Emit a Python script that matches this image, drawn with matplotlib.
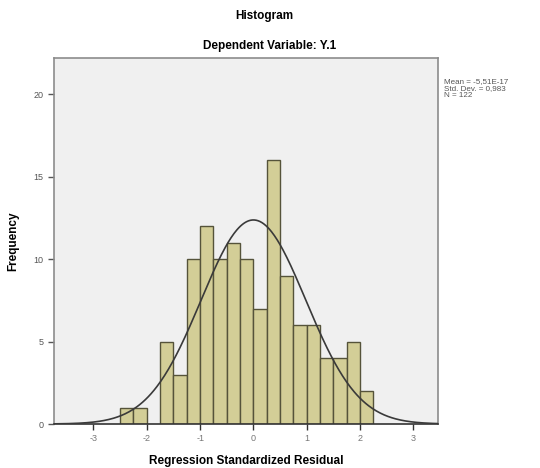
import numpy as np
import matplotlib
matplotlib.use("Agg")
import matplotlib.pyplot as plt

plt.rcParams['font.family'] = ['Liberation Sans', 'DejaVu Sans']
plt.rcParams['axes.unicode_minus'] = False

bin_edges = [-2.5, -2.25, -2.0, -1.75, -1.5, -1.25, -1.0, -0.75, -0.5, -0.25,
             0.0, 0.25, 0.5, 0.75, 1.0, 1.25, 1.5, 1.75, 2.0, 2.25]
counts = [1, 1, 0, 5, 3, 10, 12, 10, 11, 10, 7, 16, 9, 6, 6, 4, 4, 5, 2]
mean_val = -5.51e-17
std_val = 0.983
n_val = 122
x_ticks = [-3, -2, -1, 0, 1, 2, 3]
y_ticks = [0, 5, 10, 15, 20]

fig = plt.figure(figsize=(5.4, 4.68), dpi=100)
fig.patch.set_facecolor("white")
ax = fig.add_axes([0.1, 0.094, 0.711, 0.782])
ax.set_facecolor("#F0F0F0")

edges = np.array(bin_edges)
widths = np.diff(edges)
for left, w, c in zip(edges[:-1], widths, counts):
    if c > 0:
        ax.bar(left, c, width=w, align="edge", color="#D3CE97",
               edgecolor="#55533A", linewidth=1.0, zorder=2)

bw = widths[0]
xs = np.linspace(-3.74, 3.46, 400)
ys = n_val * bw / (std_val * np.sqrt(2 * np.pi)) * np.exp(-0.5 * ((xs - mean_val) / std_val) ** 2)
ax.plot(xs, ys, color="#3A3A3A", linewidth=1.2, zorder=3)

ax.set_xlim(-3.74, 3.46)
ax.set_ylim(0, 22.2)
ax.set_xticks(x_ticks)
ax.set_yticks(y_ticks)
ax.tick_params(axis="both", labelsize=6.5, colors="#555555", length=4, width=1,
               direction="out")
ax.tick_params(axis="x", colors="#333333", labelcolor="#777777")
for s in ax.spines.values():
    s.set_color("#8C8C8C")
    s.set_linewidth(1.2)
ax.spines["bottom"].set_color("#333333")

ax.set_xlabel("Regression Standardized Residual", fontsize=8.5, fontweight="bold",
              labelpad=8)
ax.set_ylabel("Frequency", fontsize=8.5, fontweight="bold", labelpad=10)

fig.text(0.49, 0.965, "Histogram", ha="center", va="center", fontsize=8.5,
         fontweight="bold")
fig.text(0.50, 0.902, "Dependent Variable: Y.1", ha="center", va="center",
         fontsize=8.5, fontweight="bold")

stats = "Mean = -5,51E-17\nStd. Dev. = 0,983\nN = 122"
fig.text(0.822, 0.81, stats, ha="left", va="center", fontsize=5.8,
         color="#555555", linespacing=1.0)

fig.savefig("out.png", dpi=100)
